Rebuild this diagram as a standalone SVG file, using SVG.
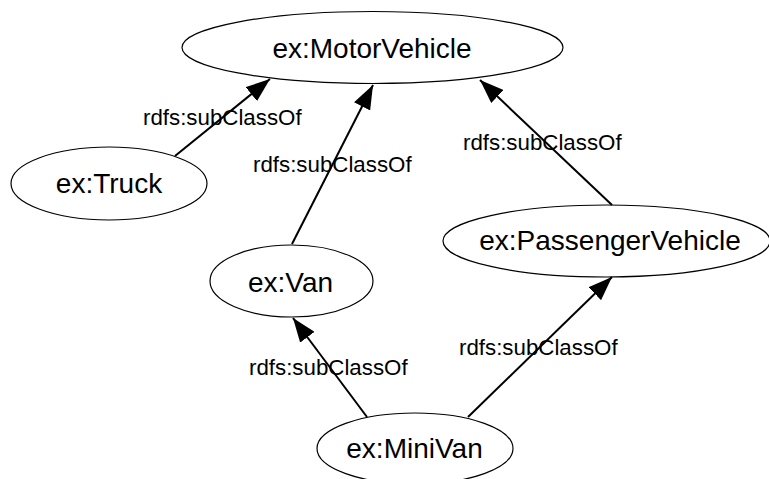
<svg xmlns="http://www.w3.org/2000/svg" width="769" height="479" viewBox="0 0 769 479">
<style>
.node ellipse{fill:#fff;stroke:#000;stroke-width:1.2}
.node text{font-family:"Liberation Sans",Arial,sans-serif;font-size:28px;fill:#000;text-anchor:middle}
.edge line{stroke:#000;stroke-width:2;marker-end:url(#arr)}
.lbl{font-family:"Liberation Sans",Arial,sans-serif;font-size:22.3px;fill:#000}
</style>
<defs>
<marker id="arr" markerUnits="userSpaceOnUse" markerWidth="24" markerHeight="18" refX="24" refY="9" orient="auto" viewBox="0 0 24 18">
<path d="M0,0 L24,9 L0,18 z" fill="#000"/>
</marker>
</defs>
<rect width="769" height="479" fill="#fff"/>
<g id="n-motorvehicle" class="node"><ellipse cx="372.5" cy="47.5" rx="190.5" ry="36"/><text x="372" y="58">ex:MotorVehicle</text></g>
<g id="n-truck" class="node"><ellipse cx="109" cy="183.5" rx="98" ry="36.5"/><text x="109" y="193">ex:Truck</text></g>
<g id="n-passengervehicle" class="node"><ellipse cx="606.5" cy="241" rx="163.5" ry="36"/><text x="610" y="250">ex:PassengerVehicle</text></g>
<g id="n-van" class="node"><ellipse cx="291.5" cy="281" rx="81.5" ry="36"/><text x="290.5" y="292">ex:Van</text></g>
<g id="n-minivan" class="node"><ellipse cx="415" cy="448.5" rx="98" ry="35.5"/><text x="414.5" y="458">ex:MiniVan</text></g>
<g id="edges" class="edge">
<line x1="175" y1="156" x2="270" y2="79"/>
<line x1="292" y1="244" x2="373" y2="85"/>
<line x1="612" y1="205" x2="480" y2="80"/>
<line x1="367" y1="417" x2="293" y2="318"/>
<line x1="468" y1="417" x2="612" y2="277"/>
<text class="lbl" x="143" y="125">rdfs:subClassOf</text>
<text class="lbl" x="253" y="172">rdfs:subClassOf</text>
<text class="lbl" x="463" y="150">rdfs:subClassOf</text>
<text class="lbl" x="249" y="375">rdfs:subClassOf</text>
<text class="lbl" x="459" y="355">rdfs:subClassOf</text>
</g>
</svg>
